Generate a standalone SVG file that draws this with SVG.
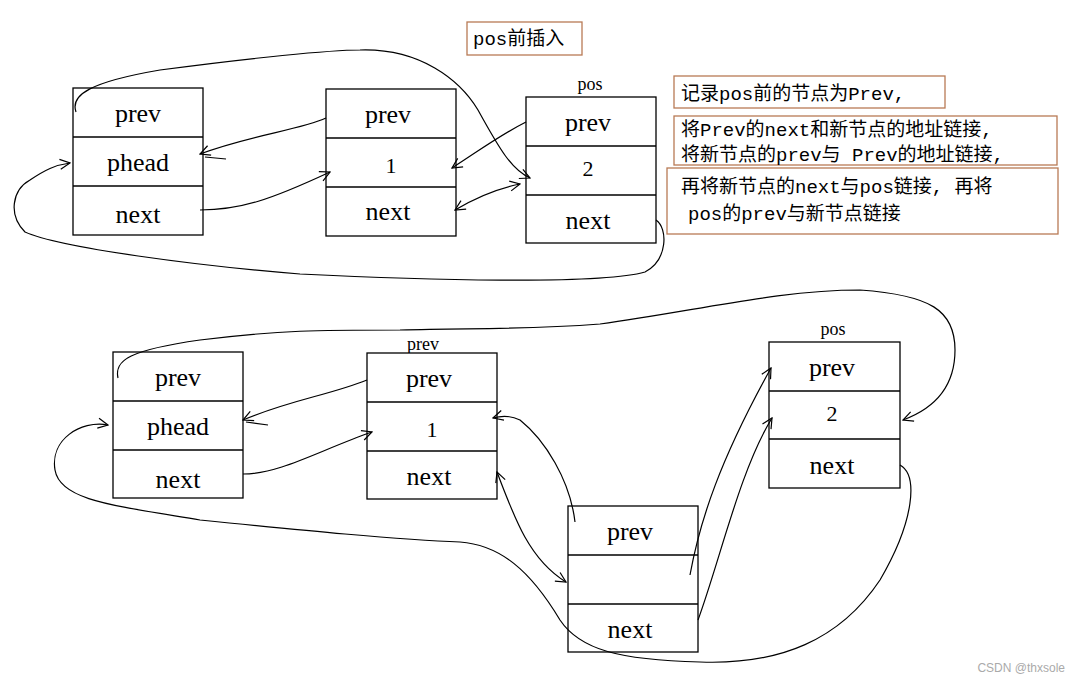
<svg xmlns="http://www.w3.org/2000/svg" width="1080" height="683" viewBox="0 0 1080 683">
<style>
.b{fill:#fff;stroke:#000;stroke-width:1.3}
.t{font-family:"Liberation Serif","Noto Sans CJK SC",serif;font-size:26px;fill:#000;text-anchor:middle}
.s{font-family:"Liberation Serif",serif;font-size:18px;fill:#000;text-anchor:middle}
.n{font-family:"Liberation Serif",serif;font-size:22px;fill:#000;text-anchor:middle}
.nb{fill:#fff;stroke:#b87a55;stroke-width:1.3}
.c{font-family:"Liberation Mono","Noto Sans CJK SC",monospace;font-size:19px;fill:#000}
.l{fill:none;stroke:#000;stroke-width:1.2}
</style>
<defs>
<marker id="a" viewBox="0 0 12 12" refX="11" refY="6" markerWidth="12" markerHeight="12" markerUnits="userSpaceOnUse" orient="auto-start-reverse">
<path d="M1,1 L11,6 L1,11" fill="none" stroke="#000" stroke-width="1.2"/>
</marker>
</defs>
<rect width="1080" height="683" fill="#fff"/>
<g id="title"><rect class="nb" x="467" y="22" width="115" height="33"/><text class="c" x="473" y="45">pos前插入</text></g>
<g id="note1"><rect class="nb" x="674" y="76" width="271" height="32"/><text class="c" x="681" y="100">记录pos前的节点为Prev,</text></g>
<g id="note2"><rect class="nb" x="674" y="116" width="383" height="49"/><text class="c" x="681" y="136">将Prev的next和新节点的地址链接,</text><text class="c" x="681" y="161">将新节点的prev与 Prev的地址链接,</text></g>
<g id="note3"><rect class="nb" x="667" y="168" width="391" height="66"/><text class="c" x="681" y="193">再将新节点的next与pos链接, 再将</text><text class="c" x="688" y="220">pos的prev与新节点链接</text></g>

<g id="A1"><rect class="b" x="73" y="88" width="130" height="147"/><line class="b" x1="73" y1="137" x2="203" y2="137"/><line class="b" x1="73" y1="186" x2="203" y2="186"/>
<text class="t" x="138" y="122">prev</text><text class="t" x="138" y="171">phead</text><text class="t" x="138" y="223">next</text></g>
<g id="B1"><rect class="b" x="326" y="89" width="130" height="147"/><line class="b" x1="326" y1="138" x2="456" y2="138"/><line class="b" x1="326" y1="187" x2="456" y2="187"/>
<text class="t" x="388" y="123">prev</text><text class="n" x="391" y="173">1</text><text class="t" x="388" y="220">next</text></g>
<g id="C1"><text class="s" x="590" y="90">pos</text><rect class="b" x="526" y="97" width="130" height="146"/><line class="b" x1="526" y1="146" x2="656" y2="146"/><line class="b" x1="526" y1="195" x2="656" y2="195"/>
<text class="t" x="588" y="131">prev</text><text class="n" x="588" y="176">2</text><text class="t" x="588" y="229">next</text></g>

<g id="A2"><rect class="b" x="113" y="352" width="130" height="146"/><line class="b" x1="113" y1="401" x2="243" y2="401"/><line class="b" x1="113" y1="450" x2="243" y2="450"/>
<text class="t" x="178" y="386">prev</text><text class="t" x="178" y="435">phead</text><text class="t" x="178" y="488">next</text></g>
<g id="B2"><text class="s" x="423" y="350">prev</text><rect class="b" x="367" y="353" width="130" height="146"/><line class="b" x1="367" y1="402" x2="497" y2="402"/><line class="b" x1="367" y1="451" x2="497" y2="451"/>
<text class="t" x="429" y="387">prev</text><text class="n" x="432" y="437">1</text><text class="t" x="429" y="485">next</text></g>
<g id="C2"><text class="s" x="833" y="335">pos</text><rect class="b" x="769" y="342" width="131" height="146"/><line class="b" x1="769" y1="391" x2="900" y2="391"/><line class="b" x1="769" y1="439" x2="900" y2="439"/>
<text class="t" x="832" y="376">prev</text><text class="n" x="832" y="421">2</text><text class="t" x="832" y="474">next</text></g>
<g id="N"><rect class="b" x="568" y="506" width="130" height="146"/><line class="b" x1="568" y1="555" x2="698" y2="555"/><line class="b" x1="568" y1="604" x2="698" y2="604"/>
<text class="t" x="630" y="540">prev</text><text class="t" x="630" y="638">next</text></g>

<g id="connectors">
<path class="l" marker-end="url(#a)" d="M656,220 C668,228 668,260 645,272 C600,285 420,280 300,274 C200,266 60,248 25,232 C8,215 12,190 30,180 C45,170 55,165 70,163"/>
<path class="l" marker-end="url(#a)" d="M200,210 C240,210 270,200 330,172"/>
<path class="l" marker-end="url(#a)" d="M326,118 C300,130 250,135 200,154"/>
<path class="l" d="M205,157 L226,159"/>
<path class="l" marker-end="url(#a)" d="M526,122 C500,135 480,150 452,168"/>
<path class="l" marker-start="url(#a)" marker-end="url(#a)" d="M455,210 C480,195 500,188 520,184"/>
<path class="l" marker-end="url(#a)" d="M76,112 C70,95 90,82 160,70 C250,58 330,50 360,50 C420,48 460,80 478,110 C500,150 512,170 530,178"/>
<path class="l" marker-end="url(#a)" d="M243,474 C280,474 320,450 372,432"/>
<path class="l" marker-end="url(#a)" d="M367,380 C330,395 290,400 243,420"/>
<path class="l" d="M246,422 L268,425"/>
<path class="l" marker-end="url(#a)" d="M575,522 C570,480 545,440 520,420 C510,415 500,416 493,418"/>
<path class="l" marker-start="url(#a)" marker-end="url(#a)" d="M497,472 C515,520 530,560 566,582"/>
<path class="l" marker-end="url(#a)" d="M690,575 C700,520 720,460 771,368"/>
<path class="l" marker-end="url(#a)" d="M698,620 C720,560 740,470 772,418"/>
<path class="l" marker-end="url(#a)" d="M900,465 C918,475 915,520 880,580 C840,640 780,665 700,662 C620,660 580,650 560,620 C530,570 500,545 460,542 C400,540 300,530 200,520 C110,505 60,500 55,470 C50,440 80,420 108,425"/>
<path class="l" marker-end="url(#a)" d="M118,378 C114,360 130,350 200,340 C280,330 320,330 400,330 C480,328 520,330 600,324 C700,310 780,290 860,290 C930,295 955,310 955,350 C955,390 930,410 903,420"/>
</g>
<text x="1065" y="672" font-family="Liberation Sans,sans-serif" font-size="12" fill="#aaa" text-anchor="end">CSDN @thxsole</text>
</svg>
